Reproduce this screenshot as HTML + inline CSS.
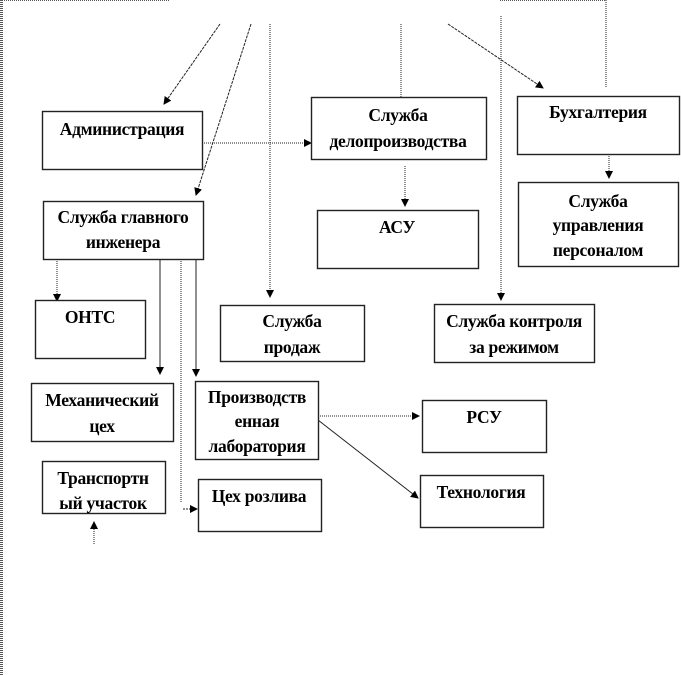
<!DOCTYPE html>
<html><head><meta charset="utf-8"><style>
html,body{margin:0;padding:0;background:#fff;width:681px;height:675px;overflow:hidden}
svg text{font-family:"Liberation Serif","Noto Serif CJK SC",serif;font-weight:bold;font-size:17.5px;fill:#000;text-anchor:middle;letter-spacing:-0.3px}
</style></head><body>
<svg width="681" height="675" viewBox="0 0 681 675" xmlns="http://www.w3.org/2000/svg">
<defs>
<marker id="a" markerWidth="8" markerHeight="8" refX="7" refY="4" orient="auto" markerUnits="userSpaceOnUse">
<path d="M0,0 L8,4 L0,8 z" fill="#000"/></marker>
</defs>
<line x1="1.5" y1="0" x2="1.5" y2="675" stroke="#555" stroke-width="3" stroke-dasharray="1 1"/>
<line x1="0" y1="0.5" x2="170" y2="0.5" stroke="#555" stroke-dasharray="1 1"/>
<line x1="500" y1="0.5" x2="606" y2="0.5" stroke="#555" stroke-dasharray="1 1"/>
<g fill="none" stroke="#222" stroke-width="1">
<line x1="220" y1="24" x2="164" y2="104" marker-end="url(#a)" stroke-dasharray="3 1"/>
<line x1="251" y1="24" x2="196" y2="195" marker-end="url(#a)" stroke-dasharray="3 1"/>
<line x1="270" y1="24" x2="270" y2="297" marker-end="url(#a)" stroke-dasharray="1 1"/>
<line x1="401" y1="24" x2="401" y2="97" stroke-dasharray="1 1"/>
<line x1="448" y1="24" x2="543" y2="88" marker-end="url(#a)" stroke-dasharray="3 1"/>
<line x1="501" y1="16" x2="501" y2="300" marker-end="url(#a)" stroke-dasharray="1 1"/>
<line x1="606" y1="0" x2="606" y2="88" stroke-dasharray="1 1"/>
<line x1="202" y1="143" x2="311" y2="143" marker-end="url(#a)" stroke-dasharray="1 1"/>
<line x1="405" y1="166" x2="405" y2="206" marker-end="url(#a)" stroke-dasharray="1 1"/>
<line x1="609" y1="156" x2="609" y2="178" marker-end="url(#a)" stroke-dasharray="1 1"/>
<line x1="57" y1="259" x2="57" y2="301" marker-end="url(#a)" stroke-dasharray="1 1"/>
<line x1="160" y1="259" x2="160" y2="374"  marker-end="url(#a)"/>
<line x1="181" y1="259" x2="181" y2="502" stroke-dasharray="1 1"/>
<line x1="183" y1="509" x2="197" y2="509" marker-end="url(#a)" stroke-dasharray="2 1"/>
<line x1="196" y1="259" x2="196" y2="376" marker-end="url(#a)"/>
<line x1="318" y1="416" x2="419" y2="416" marker-end="url(#a)" stroke-dasharray="1 1"/>
<line x1="318" y1="420" x2="418" y2="498" marker-end="url(#a)"/>
<line x1="94" y1="544" x2="94" y2="522" marker-end="url(#a)" stroke-dasharray="1 1"/>
</g>
<g fill="#fff" stroke="#222" stroke-width="1.4">
<rect x="42.5" y="111.5" width="160" height="58"/>
<rect x="43.5" y="201.5" width="160" height="58"/>
<rect x="311.5" y="97.5" width="175" height="62"/>
<rect x="517.5" y="96.5" width="162" height="58"/>
<rect x="518.5" y="182.5" width="160" height="84"/>
<rect x="317.5" y="210.5" width="161" height="58"/>
<rect x="35.5" y="300.5" width="110" height="58"/>
<rect x="220.5" y="305.5" width="144" height="56"/>
<rect x="434.5" y="304.5" width="160" height="58"/>
<rect x="31.5" y="383.5" width="142" height="58"/>
<rect x="195.5" y="381.5" width="123" height="78"/>
<rect x="422.5" y="400.5" width="124" height="52"/>
<rect x="42.5" y="461.5" width="123" height="52"/>
<rect x="198.5" y="479.5" width="123" height="52"/>
<rect x="420.5" y="475.5" width="123" height="52"/>
</g>
<text x="122" y="135">Администрация</text>
<text x="123" y="223">Служба главного</text><text x="123" y="248">инженера</text>
<text x="398" y="121">Служба</text><text x="398" y="147">делопроизводства</text>
<text x="598" y="118">Бухгалтерия</text>
<text x="598" y="207">Служба</text><text x="598" y="231">управления</text><text x="598" y="256">персоналом</text>
<text x="397" y="233">АСУ</text>
<text x="90" y="323">ОНТС</text>
<text x="292" y="327">Служба</text><text x="292" y="353">продаж</text>
<text x="514" y="327">Служба контроля</text><text x="514" y="353">за режимом</text>
<text x="102" y="406">Механический</text><text x="102" y="432">цех</text>
<text x="257" y="403">Производств</text><text x="257" y="427">енная</text><text x="257" y="452">лаборатория</text>
<text x="484" y="423">РСУ</text>
<text x="103" y="484">Транспортн</text><text x="103" y="509">ый участок</text>
<text x="259" y="502">Цех розлива</text>
<text x="481" y="498">Технология</text>
</svg>
</body></html>
